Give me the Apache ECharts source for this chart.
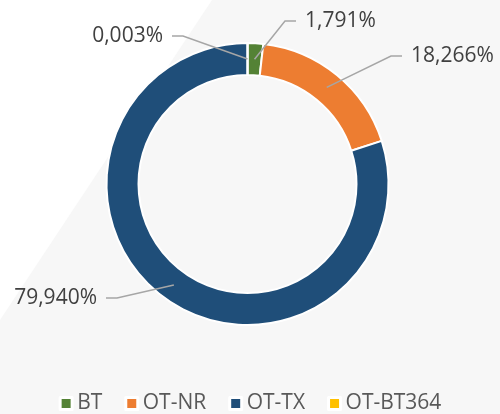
<!DOCTYPE html>
<html>
<head>
<meta charset="utf-8">
<script src="https://cdn.jsdelivr.net/npm/echarts@6/dist/echarts.min.js"></script>
<style>html,body{margin:0;padding:0;background:#fff}#c{width:500px;height:414px}</style>
</head>
<body>
<div id="c"></div>
<script>
const categories = ['BT', 'OT-NR', 'OT-TX', 'OT-BT364'];
const shares = [1.791, 18.266, 79.940, 0.003];
const colors = ['#548235', '#ED7D31', '#1F4E79', '#FFC000'];

const data = categories.map((n, i) => ({ name: n, value: shares[i] }));
const fmt = p => p.value.toFixed(3).replace('.', ',') + '%';

// label anchor positions (style only)
const labelPos = [
  { x: 296, y: 21, align: 'left' },
  { x: 402, y: 56, align: 'left' },
  { x: 106, y: 298, align: 'right' },
  { x: 172, y: 36, align: 'right' }
];

const chart = echarts.init(document.getElementById('c'), null, { renderer: 'canvas' });
chart.setOption({
  backgroundColor: '#ffffff',
  color: colors,
  animation: false,
  graphic: [{
    type: 'polygon', z: -10, silent: true,
    shape: { points: [[212, 0], [500, 0], [500, 414], [0, 414], [0, 320]] },
    style: { fill: '#f7f7f7' }
  }],
  legend: {
    data: categories,
    top: 388,
    left: 'center',
    icon: 'rect',
    itemWidth: 12,
    itemHeight: 12,
    itemGap: 22,
    itemStyle: { borderColor: '#ffffff', borderWidth: 3 },
    textStyle: { fontFamily: 'Open Sans', fontSize: 21, color: '#595959' }
  },
  series: [{
    type: 'pie',
    center: [247.5, 184],
    radius: [109, 141],
    startAngle: 90,
    clockwise: true,
    avoidLabelOverlap: false,
    silent: true,
    itemStyle: { borderColor: '#ffffff', borderWidth: 2 },
    label: { show: false },
    labelLine: { show: false },
    data: data
  }, {
    type: 'pie',
    center: [247.5, 184],
    radius: [0, 125],
    startAngle: 90,
    clockwise: true,
    avoidLabelOverlap: false,
    silent: true,
    z: 3,
    itemStyle: { color: 'rgba(0,0,0,0)', borderWidth: 0 },
    label: {
      show: true,
      formatter: fmt,
      fontFamily: 'Open Sans',
      fontSize: 21,
      color: '#404040',
      padding: [0, 9],
      backgroundColor: 'rgba(255,255,255,0)'
    },
    labelLine: {
      show: true,
      length: 20,
      length2: 11,
      smooth: false,
      lineStyle: { color: '#a6a6a6', width: 1.5 }
    },
    labelLayout: function (p) {
      const lp = labelPos[p.dataIndex];
      return { x: lp.x, y: lp.y, align: lp.align, verticalAlign: 'middle' };
    },
    data: data
  }]
});
</script>
</body>
</html>
